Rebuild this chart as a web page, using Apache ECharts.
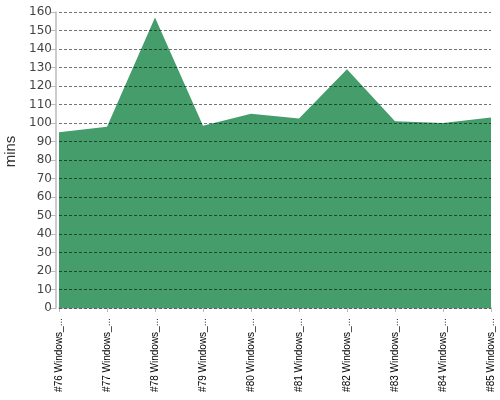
<!DOCTYPE html>
<html><head><meta charset="utf-8">
<script src="https://cdn.jsdelivr.net/npm/echarts@6/dist/echarts.min.js"></script>
<style>html,body{margin:0;padding:0;background:#fff}#c{width:500px;height:400px}</style>
</head><body><div id="c"></div>
<script>
const categories = ["#76 Windows_...", "#77 Windows_...", "#78 Windows_...", "#79 Windows_...", "#80 Windows_...", "#81 Windows_...", "#82 Windows_...", "#83 Windows_...", "#84 Windows_...", "#85 Windows_..."];
const durations = [95, 98, 157, 98.5, 105, 102.5, 129, 101, 100, 103];
const yTicks = {min: 0, max: 160, interval: 10};

const chart = echarts.init(document.getElementById('c'), null, {renderer: 'canvas'});
chart.setOption({
  animation: false,
  grid: {left: 59, right: 9, top: 12, bottom: 92, containLabel: false, outerBoundsMode: 'none'},
  xAxis: {
    type: 'category', data: categories, boundaryGap: false, offset: 5,
    axisLine: {lineStyle: {color: '#bbb', width: 1.5}},
    axisTick: {alignWithLabel: true, length: 4, lineStyle: {color: '#bbb'}},
    axisLabel: {rotate: 90, interval: 0, fontFamily: 'Liberation Sans', fontSize: 10, color: '#000', margin: 5}
  },
  yAxis: {
    type: 'value', min: yTicks.min, max: yTicks.max, interval: yTicks.interval, offset: 3,
    z: 3,
    name: 'mins', nameLocation: 'middle', nameGap: 37,
    nameTextStyle: {fontFamily: 'Liberation Sans', fontSize: 15, color: '#333', padding: [0, 0, 0, 17]},
    axisLine: {show: true, lineStyle: {color: '#bbb', width: 1.5}},
    axisTick: {show: true, length: 5, lineStyle: {color: '#bbb'}},
    axisLabel: {fontFamily: 'DejaVu Sans', fontSize: 12, color: '#444', margin: 4},
    splitLine: {show: true, lineStyle: {color: 'rgba(0,0,0,0.55)', type: [3, 2], width: 1}}
  },
  series: [{
    type: 'line', data: durations, symbol: 'none',
    lineStyle: {width: 0},
    areaStyle: {color: '#449d6b', opacity: 1},
    z: 1
  }]
});
</script></body></html>
